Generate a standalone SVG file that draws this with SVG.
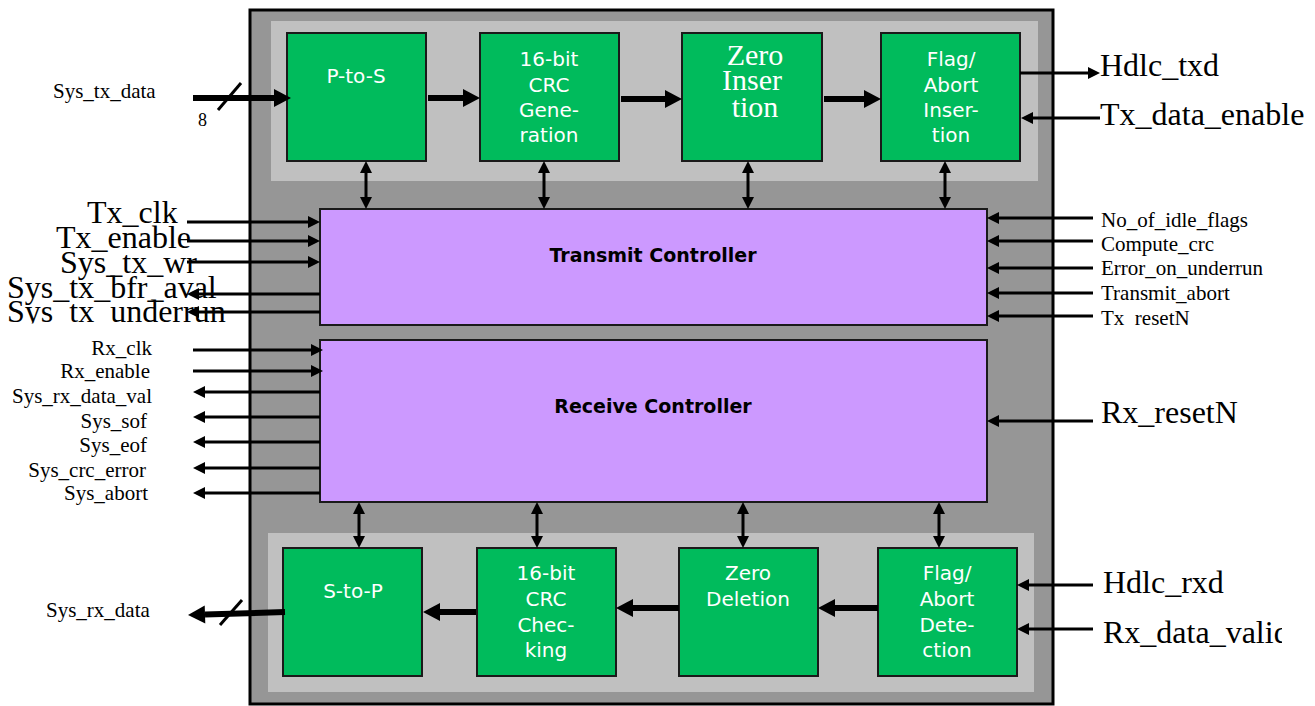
<svg xmlns="http://www.w3.org/2000/svg" width="1315" height="706" viewBox="0 0 1315 706">
<style>
.lbl{font-family:"Liberation Serif","Times New Roman",serif;fill:#000}
.s{font-size:21px}
.L{font-size:32px}
.gt{font-family:"DejaVu Sans",Verdana,sans-serif;font-size:20px;fill:#fff;text-anchor:middle}
.zt{font-family:"Liberation Serif","Times New Roman",serif;font-size:30px;fill:#fff;text-anchor:middle}
.ct{font-family:"DejaVu Sans",Verdana,sans-serif;font-size:19px;font-weight:bold;fill:#000;text-anchor:middle}
.green{fill:#00bb5c;stroke:#1a1a1a;stroke-width:2}
.purple{fill:#cc99ff;stroke:#1a1a1a;stroke-width:2}
.thin{stroke:#000;stroke-width:3;fill:none;marker-end:url(#ah)}
.dbl{stroke:#000;stroke-width:3;fill:none;marker-end:url(#ah);marker-start:url(#ah)}
.thick{stroke:#000;stroke-width:6;fill:none;marker-end:url(#ahT)}
</style>
<defs>
<marker id="ah" markerUnits="userSpaceOnUse" viewBox="0 -7 13 14" refX="0" refY="0" markerWidth="13" markerHeight="14" orient="auto-start-reverse" overflow="visible">
<path d="M0,-6 L12,0 L0,6 z" fill="#000"/>
</marker>
<marker id="ahT" markerUnits="userSpaceOnUse" viewBox="0 -10 18 20" refX="0" refY="0" markerWidth="18" markerHeight="20" orient="auto" overflow="visible">
<path d="M0,-9 L17,0 L0,9 z" fill="#000"/>
</marker>
<clipPath id="clipUnder"><rect x="0" y="290" width="249" height="33.5"/></clipPath>
<clipPath id="clipReset"><rect x="1095" y="300" width="220" height="27"/></clipPath>
<clipPath id="clipValid"><rect x="1095" y="600" width="187" height="60"/></clipPath>
</defs>
<rect width="1315" height="706" fill="#fff"/>

<g id="frame">
<rect x="250" y="10" width="803" height="694" fill="#969696" stroke="#000" stroke-width="3"/>
<rect x="271" y="21" width="767" height="160" fill="#c0c0c0"/>
<rect x="268" y="533" width="766" height="159" fill="#c0c0c0"/>
</g>

<g id="labels">
<text class="lbl s" x="53" y="98">Sys_tx_data</text>
<text class="lbl" style="font-size:18px" x="198" y="126">8</text>
<text class="lbl L" x="87" y="223">Tx_clk</text>
<text class="lbl L" x="56" y="248">Tx_enable</text>
<text class="lbl L" x="60" y="273">Sys_tx_wr</text>
<text class="lbl L" x="7" y="298">Sys_tx_bfr_aval</text>
<text class="lbl L" x="7" y="322" clip-path="url(#clipUnder)">Sys_tx_underrun</text>
<g text-anchor="end">
<text class="lbl s" x="152" y="355">Rx_clk</text>
<text class="lbl s" x="150" y="378">Rx_enable</text>
<text class="lbl s" x="152" y="403">Sys_rx_data_val</text>
<text class="lbl s" x="147" y="428">Sys_sof</text>
<text class="lbl s" x="147" y="452">Sys_eof</text>
<text class="lbl s" x="146" y="477">Sys_crc_error</text>
<text class="lbl s" x="148" y="500">Sys_abort</text>
</g>
<text class="lbl s" x="46" y="617">Sys_rx_data</text>
<text class="lbl L" x="1100" y="76">Hdlc_txd</text>
<text class="lbl L" x="1100" y="125">Tx_data_enable</text>
<text class="lbl s" x="1101" y="227">No_of_idle_flags</text>
<text class="lbl s" x="1101" y="251">Compute_crc</text>
<text class="lbl s" x="1101" y="275">Error_on_underrun</text>
<text class="lbl s" x="1101" y="300">Transmit_abort</text>
<text class="lbl s" x="1101" y="325" clip-path="url(#clipReset)">Tx_resetN</text>
<text class="lbl L" x="1101" y="423">Rx_resetN</text>
<text class="lbl L" x="1103" y="593">Hdlc_rxd</text>
<text class="lbl L" x="1103" y="643" clip-path="url(#clipValid)">Rx_data_valid</text>
</g>

<g id="p2s">
<rect class="green" x="287" y="33" width="139" height="128"/>
<text class="gt" x="356" y="83">P-to-S</text>
</g>
<g id="crcgen">
<rect class="green" x="480" y="33" width="139" height="128"/>
<text class="gt" x="549" y="66">16-bit</text>
<text class="gt" x="549" y="92">CRC</text>
<text class="gt" x="549" y="117">Gene-</text>
<text class="gt" x="549" y="142">ration</text>
</g>
<g id="zeroins">
<rect class="green" x="682" y="33" width="140" height="128"/>
<text class="zt" x="755" y="65">Zero</text>
<text class="zt" x="752" y="90">Inser</text>
<text class="zt" x="755" y="117">tion</text>
</g>
<g id="flagins">
<rect class="green" x="881" y="33" width="139" height="128"/>
<text class="gt" x="951" y="66">Flag/</text>
<text class="gt" x="951" y="92">Abort</text>
<text class="gt" x="951" y="117">Inser-</text>
<text class="gt" x="951" y="142">tion</text>
</g>
<g id="txctrl">
<rect class="purple" x="320" y="209" width="667" height="116"/>
<text class="ct" x="653" y="262">Transmit Controller</text>
</g>
<g id="rxctrl">
<rect class="purple" x="320" y="340" width="667" height="162"/>
<text class="ct" x="653" y="413">Receive Controller</text>
</g>
<g id="s2p">
<rect class="green" x="283" y="548" width="139" height="128"/>
<text class="gt" x="353" y="598">S-to-P</text>
</g>
<g id="crcchk">
<rect class="green" x="477" y="548" width="139" height="128"/>
<text class="gt" x="546" y="580">16-bit</text>
<text class="gt" x="546" y="606">CRC</text>
<text class="gt" x="546" y="632">Chec-</text>
<text class="gt" x="546" y="657">king</text>
</g>
<g id="zerodel">
<rect class="green" x="679" y="548" width="139" height="128"/>
<text class="gt" x="748" y="580">Zero</text>
<text class="gt" x="748" y="606">Deletion</text>
</g>
<g id="flagdet">
<rect class="green" x="878" y="548" width="139" height="128"/>
<text class="gt" x="947" y="580">Flag/</text>
<text class="gt" x="947" y="606">Abort</text>
<text class="gt" x="947" y="632">Dete-</text>
<text class="gt" x="947" y="657">ction</text>
</g>

<g id="connectors">
<line class="thick" x1="193" y1="98" x2="274" y2="98"/>
<line x1="218" y1="110" x2="241" y2="83" stroke="#000" stroke-width="3"/>
<line class="thick" x1="428" y1="98" x2="463" y2="98"/>
<line class="thick" x1="621" y1="99" x2="665" y2="99"/>
<line class="thick" x1="824" y1="99" x2="864" y2="99"/>
<line class="thick" x1="476" y1="612" x2="440" y2="612"/>
<line class="thick" x1="679" y1="608" x2="633" y2="608"/>
<line class="thick" x1="878" y1="608" x2="835" y2="608"/>
<line class="thick" x1="285" y1="612" x2="205" y2="614.5"/>
<line x1="220" y1="625" x2="242" y2="600" stroke="#000" stroke-width="3"/>

<line class="thin" x1="1020" y1="73" x2="1088" y2="73"/>
<line class="thin" x1="1100" y1="118" x2="1033" y2="118"/>

<line class="dbl" x1="366" y1="173" x2="366" y2="197"/>
<line class="dbl" x1="544" y1="173" x2="544" y2="197"/>
<line class="dbl" x1="748" y1="173" x2="748" y2="197"/>
<line class="dbl" x1="945" y1="173" x2="945" y2="197"/>
<line class="dbl" x1="359" y1="514" x2="359" y2="536"/>
<line class="dbl" x1="537" y1="514" x2="537" y2="536"/>
<line class="dbl" x1="743" y1="514" x2="743" y2="536"/>
<line class="dbl" x1="939" y1="514" x2="939" y2="536"/>

<line class="thin" x1="187" y1="222" x2="308" y2="222"/>
<line class="thin" x1="187" y1="241" x2="308" y2="241"/>
<line class="thin" x1="187" y1="262" x2="308" y2="262"/>
<line class="thin" x1="320" y1="294" x2="199" y2="294"/>
<line class="thin" x1="320" y1="312" x2="199" y2="312"/>

<line class="thin" x1="193" y1="350" x2="311" y2="350"/>
<line class="thin" x1="193" y1="371" x2="311" y2="371"/>
<line class="thin" x1="320" y1="392" x2="205" y2="392"/>
<line class="thin" x1="320" y1="417" x2="205" y2="417"/>
<line class="thin" x1="320" y1="442" x2="205" y2="442"/>
<line class="thin" x1="320" y1="468" x2="205" y2="468"/>
<line class="thin" x1="320" y1="493" x2="205" y2="493"/>

<line class="thin" x1="1093" y1="218" x2="999" y2="218"/>
<line class="thin" x1="1093" y1="241" x2="999" y2="241"/>
<line class="thin" x1="1093" y1="268" x2="999" y2="268"/>
<line class="thin" x1="1093" y1="293" x2="999" y2="293"/>
<line class="thin" x1="1093" y1="316" x2="999" y2="316"/>
<line class="thin" x1="1093" y1="421" x2="999" y2="421"/>
<line class="thin" x1="1093" y1="585" x2="1029" y2="585"/>
<line class="thin" x1="1093" y1="629" x2="1029" y2="629"/>
</g>
</svg>
